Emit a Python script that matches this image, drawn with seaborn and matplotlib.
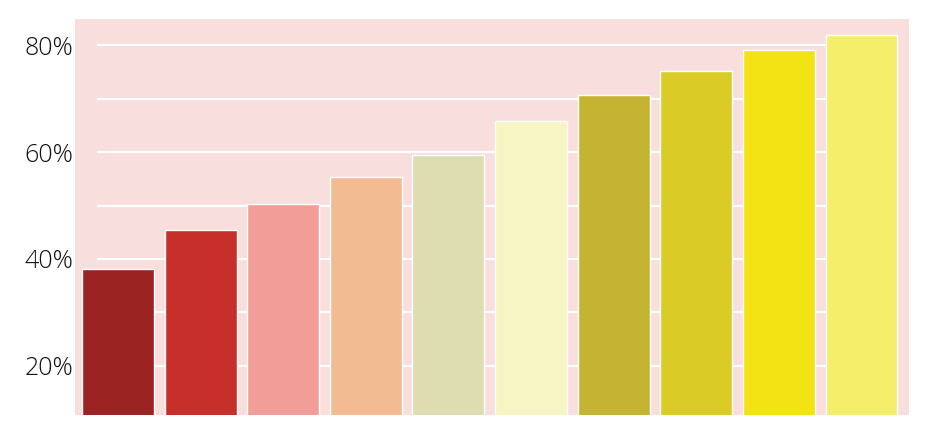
import matplotlib
matplotlib.use("Agg")
import matplotlib.pyplot as plt
import seaborn as sns
import pandas as pd

# data
categories = ["A", "B", "C", "D", "E", "F", "G", "H", "I", "J"]
values = [38.1, 45.4, 50.3, 55.3, 59.4, 65.8, 70.7, 75.1, 79.1, 81.9]
colors = ["#9b2321", "#c62f2a", "#f29e98", "#f2bb91", "#dedcb1",
          "#f7f5c4", "#c4b431", "#dacb26", "#f3e314", "#f5ee6a"]
tick_values = [20, 40, 60, 80]
grid_values = [10, 20, 30, 40, 50, 60, 70, 80]

df = pd.DataFrame({"cat": categories, "value": values})

sns.set_style("white")
plt.rcParams["font.family"] = ["Open Sans", "DejaVu Sans"]

fig = plt.figure(figsize=(9.46, 4.36), dpi=100)
ax = fig.add_axes([0.0793, 0.0482, 0.8816, 0.9082])
ax.set_facecolor("#f9dede")

for g in grid_values:
    ax.axhline(g, xmin=0.027, xmax=0.973, color="white", linewidth=1.6, zorder=0.5)

sns.barplot(data=df, x="cat", y="value", hue="cat", palette=colors, order=categories,
            hue_order=categories, legend=False, width=0.87, edgecolor="white",
            linewidth=1.0, saturation=1, ax=ax, zorder=2)

ax.set_xlim(-0.52, 9.575)
ax.set_ylim(10.8, 84.9)
ax.set_yticks(tick_values)
ax.set_yticklabels([f"{v}%" for v in tick_values], fontweight="light")
ax.set_xticks([])
ax.set_xlabel("")
ax.set_ylabel("")
ax.tick_params(axis="y", length=0, pad=1.5, labelsize=18, labelcolor="#111111")
for s in ax.spines.values():
    s.set_visible(False)

fig.savefig("out.png", dpi=100)
